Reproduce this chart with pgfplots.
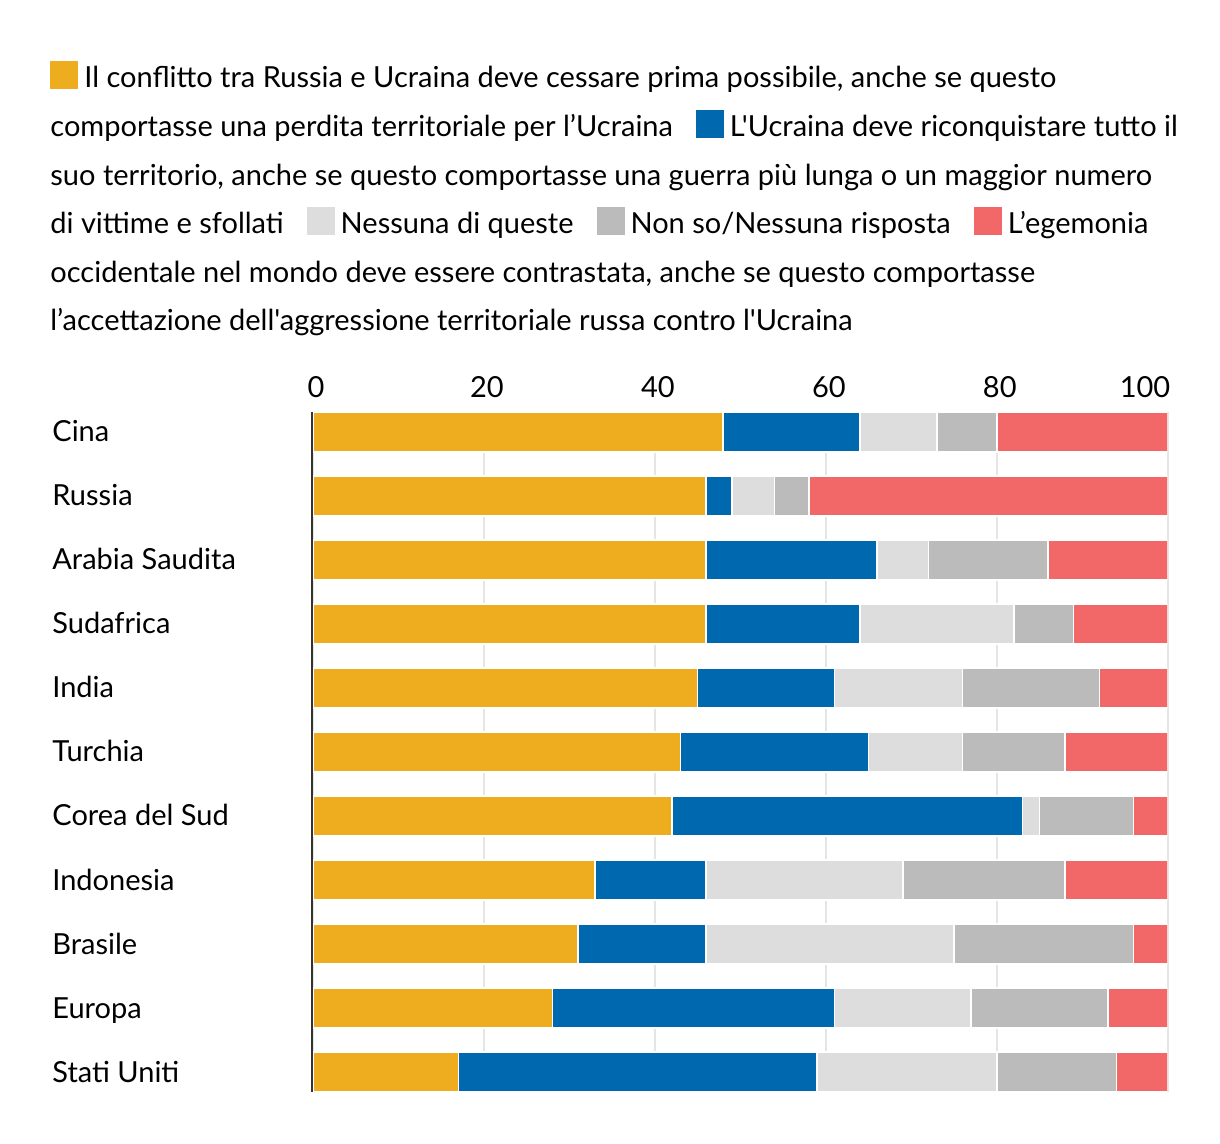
\documentclass[border=0pt]{standalone}
\usepackage{pgfplots}
\pgfplotsset{compat=1.18}
\usepackage{pgfplotstable}
\usepackage{fontspec}
\setmainfont{Lato}[Ligatures=TeXOff]
\definecolor{cyel}{HTML}{EEAD1E}
\definecolor{cblu}{HTML}{0068AF}
\definecolor{clgr}{HTML}{DDDDDD}
\definecolor{cgry}{HTML}{BBBBBB}
\definecolor{cred}{HTML}{F26767}
\definecolor{caxis}{HTML}{333333}
\pgfplotstableread{
idx a b c d e
0 48 16 9 7 20
1 46 3 5 4 42
2 46 20 6 14 14
3 46 18 18 7 11
4 45 16 15 16 8
5 43 22 11 12 12
6 42 41 2 11 4
7 33 13 23 19 12
8 31 15 29 21 4
9 28 33 16 16 7
10 17 42 21 14 6
}\data
\newcommand{\sq}[1]{\raisebox{-0.65pt}{\textcolor{#1}{\rule{14pt}{14pt}}}}
\begin{document}
\begin{tikzpicture}
\useasboundingbox (0,0) rectangle (610pt,572pt);
\begin{axis}[
  name=ax,
  at={(156.5pt,26pt)}, anchor=south west,
  scale only axis, width=427.35pt, height=340pt,
  xbar stacked, bar width=20pt,
  xmin=0, xmax=100, ymin=-0.3125, ymax=10.3125,
  y dir=reverse,
  xtick={0,20,40,60,80},
  extra x ticks={100},
  extra x tick style={grid=major, xticklabel style={anchor=base east, xshift=0pt}},
  ytick={0,...,10},
  yticklabels={Cina,Russia,Arabia Saudita,Sudafrica,India,Turchia,Corea del Sud,Indonesia,Brasile,Europa,Stati Uniti},
  xticklabel pos=upper,
  major tick length=0pt,
  tick style={draw=none},
  axis line style={draw=none},
  xmajorgrids, grid style={draw=black!10, line width=0.8pt},
  /pgf/number format/assume math mode=true,
  tick label style={font=\fontsize{14.5pt}{17pt}\selectfont, text=black},
  xticklabel style={anchor=base, inner sep=0pt, yshift=7pt, xshift=1.5pt},
  yticklabel style={anchor=base west, inner sep=0pt, xshift=-130.5pt, yshift=-5pt},
  every axis plot/.append style={draw=white, line width=0.8pt},
]
\addplot[fill=cyel] table[x=a, y=idx] {\data};
\addplot[fill=cblu] table[x=b, y=idx] {\data};
\addplot[fill=clgr] table[x=c, y=idx] {\data};
\addplot[fill=cgry] table[x=d, y=idx] {\data};
\addplot[fill=cred] table[x=e, y=idx] {\data};
\end{axis}
\draw[caxis, line width=1pt] ([xshift=-0.3pt]ax.south west) -- ([xshift=-0.3pt]ax.north west);
\begin{scope}[every node/.style={anchor=base west, inner sep=0pt, font=\fontsize{14.5pt}{17pt}\selectfont}]
\node at (25pt,528pt) {\sq{cyel}\hspace{3pt}Il conflitto tra Russia e Ucraina deve cessare prima possibile, anche se questo};
\node at (25pt,503.7pt) {comportasse una perdita territoriale per l’Ucraina\hspace{11.5pt}\sq{cblu}\hspace{3pt}L'Ucraina deve riconquistare tutto il};
\node at (25pt,479.4pt) {suo territorio, anche se questo comportasse una guerra più lunga o un maggior numero};
\node at (25pt,455.1pt) {di vittime e sfollati\hspace{11.5pt}\sq{clgr}\hspace{3pt}Nessuna di queste\hspace{11.5pt}\sq{cgry}\hspace{3pt}Non so/Nessuna risposta\hspace{11.5pt}\sq{cred}\hspace{3pt}L’egemonia};
\node at (25pt,430.8pt) {occidentale nel mondo deve essere contrastata, anche se questo comportasse};
\node at (25pt,406.5pt) {l’accettazione dell'aggressione territoriale russa contro l'Ucraina};
\end{scope}
\end{tikzpicture}
\end{document}
